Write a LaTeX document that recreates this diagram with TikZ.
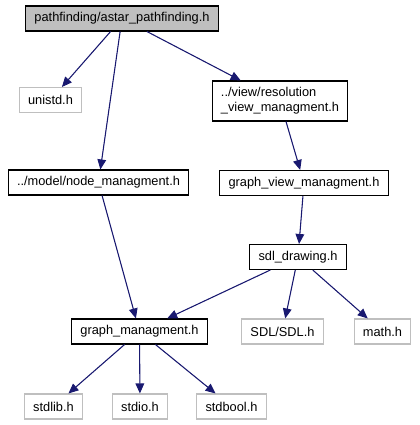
\documentclass[tikz,border=0pt]{standalone}
\usepackage{fontspec}
\setmainfont{Liberation Sans}
\usetikzlibrary{arrows.meta}

\definecolor{edgeblue}{HTML}{191970}
\definecolor{lightframe}{HTML}{BFBFBF}

\tikzset{
    filebox/.style={draw=black, line width=0.8pt, fill=white, inner xsep=6.5pt,
        minimum height=18.75pt, font=\fontsize{9.6pt}{11pt}\selectfont, align=left},
    sysbox/.style={filebox, draw=lightframe},
    rootbox/.style={filebox, fill=lightframe},
    incl/.style={draw=edgeblue, line width=0.8pt, -{Triangle[length=7.5pt,width=6.5pt]}, fill=edgeblue},
}

\begin{document}
\begin{tikzpicture}[x=0.75pt,y=-0.75pt]
    \useasboundingbox (0,0) rectangle (419,425);

    \node[rootbox] (astar) at (122,18.5) {pathfinding/astar\_pathfinding.h};
    \node[sysbox] (unistd) at (50.5,100) {unistd.h};
    \node[filebox, minimum height=30pt] (resview) at (280,101) {../view/resolution\\\_view\_managment.h};
    \node[filebox] (nodemgt) at (98.5,182.5) {../model/node\_managment.h};
    \node[filebox] (graphview) at (304,183) {graph\_view\_managment.h};
    \node[filebox] (sdldraw) at (298,257) {sdl\_drawing.h};
    \node[filebox] (graphmgt) at (139.5,331.5) {graph\_managment.h};
    \node[sysbox] (sdl) at (282.5,331.5) {SDL/SDL.h};
    \node[sysbox] (math) at (382.5,331.5) {math.h};
    \node[sysbox] (stdlib) at (53.5,406.5) {stdlib.h};
    \node[sysbox] (stdio) at (140,406.5) {stdio.h};
    \node[sysbox] (stdbool) at (231.5,406.5) {stdbool.h};

    \draw[incl] (astar) -- (unistd);
    \draw[incl] (astar) -- (nodemgt);
    \draw[incl] (astar) -- (resview);
    \draw[incl] (resview) -- (graphview);
    \draw[incl] (graphview) -- (sdldraw);
    \draw[incl] (nodemgt) -- (graphmgt);
    \draw[incl] (sdldraw) -- (graphmgt);
    \draw[incl] (sdldraw) -- (sdl);
    \draw[incl] (sdldraw) -- (math);
    \draw[incl] (graphmgt) -- (stdlib);
    \draw[incl] (graphmgt) -- (stdio);
    \draw[incl] (graphmgt) -- (stdbool);
\end{tikzpicture}
\end{document}
